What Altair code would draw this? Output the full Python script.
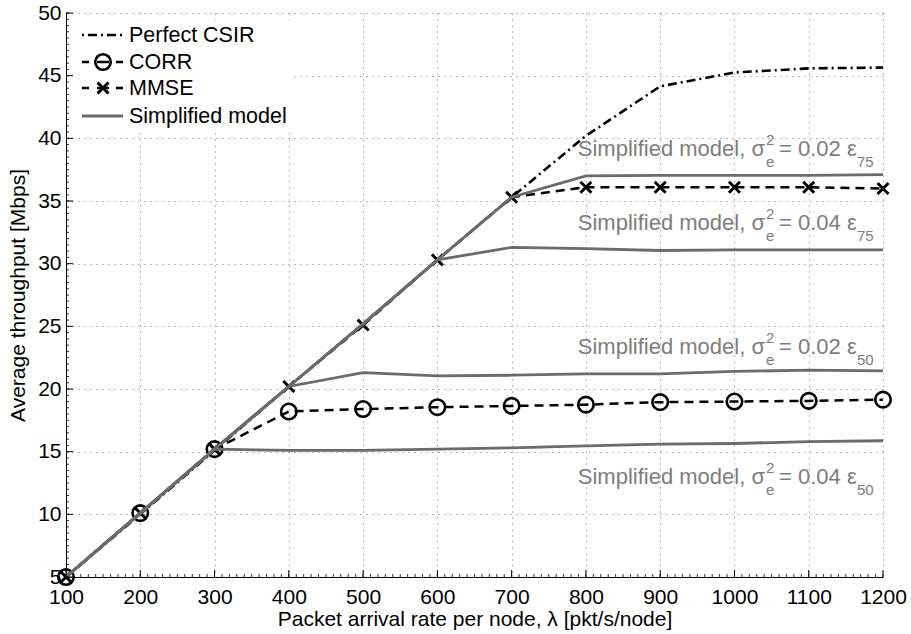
import altair as alt
import pandas as pd
import numpy as np

# ---------------- data ----------------
lam = [100, 200, 300, 400, 500, 600, 700, 800, 900, 1000, 1100, 1200]
perfect = [5.0, 10.0, 15.1, 20.2, 25.2, 30.3, 35.3, 40.2, 44.15, 45.25, 45.58, 45.65]
corr = [5.0, 10.1, 15.2, 18.2, 18.4, 18.55, 18.65, 18.75, 18.95, 19.0, 19.05, 19.15]
mmse = [5.0, 10.1, 15.2, 20.2, 25.1, 30.3, 35.3, 36.1, 36.1, 36.1, 36.1, 36.0]
simp_002_75 = [5.0, 10.1, 15.2, 20.2, 25.2, 30.3, 35.3, 37.0, 37.05, 37.05, 37.05, 37.1]
simp_004_75 = [5.0, 10.1, 15.2, 20.2, 25.2, 30.3, 31.3, 31.2, 31.05, 31.1, 31.1, 31.1]
simp_002_50 = [5.0, 10.1, 15.2, 20.2, 21.3, 21.05, 21.1, 21.2, 21.2, 21.4, 21.5, 21.45]
simp_004_50 = [5.0, 10.1, 15.2, 15.1, 15.1, 15.2, 15.3, 15.47, 15.6, 15.65, 15.8, 15.87]

x_ticks = [100, 200, 300, 400, 500, 600, 700, 800, 900, 1000, 1100, 1200]
y_ticks = [5, 10, 15, 20, 25, 30, 35, 40, 45, 50]
x_minor = list(range(100, 1201, 10))
y_minor = list(np.arange(5, 50.001, 0.5))

legend_labels = ["Perfect CSIR", "CORR", "MMSE", "Simplified model"]

ann_lam = [790.7, 790.7, 790.7, 790.7]
ann_thr = [38.57, 32.65, 22.82, 12.43]
ann_var = ["= 0.02 ε", "= 0.04 ε", "= 0.02 ε", "= 0.04 ε"]
ann_pct = ["75", "75", "50", "50"]

# ---------------- tables ----------------
series = {
    "Perfect CSIR": perfect,
    "CORR": corr,
    "MMSE": mmse,
    "s002_75": simp_002_75,
    "s004_75": simp_004_75,
    "s002_50": simp_002_50,
    "s004_50": simp_004_50,
}
rows = []
for name, vals in series.items():
    for xv, yv in zip(lam, vals):
        rows.append({"series": name, "lam": xv, "thr": yv})
df = pd.DataFrame(rows)

ann = pd.DataFrame({
    "lam": ann_lam, "thr": ann_thr,
    "main": ["Simplified model, σ"] * 4,
    "sup": ["2"] * 4, "sub": ["e"] * 4,
    "rest": ann_var, "pct": ann_pct,
})

W, H = 817, 564
FONT = "Liberation Sans"
GRAY_LINE = "#6b6b6b"
GRAY_TEXT = "#7d7d7d"

xs = alt.Scale(domain=[100, 1200], nice=False, zero=False)
ys = alt.Scale(domain=[5, 50], nice=False, zero=False)

X = alt.X("lam:Q", scale=xs, axis=alt.Axis(
    values=x_ticks, title="Packet arrival rate per node, λ [pkt/s/node]",
    labelFlush=False, labelOverlap=False, labelPadding=9, titlePadding=1,
    format="d"))
Y = alt.Y("thr:Q", scale=ys, axis=alt.Axis(
    values=y_ticks, title="Average throughput [Mbps]",
    labelFlush=False, labelOverlap=False, labelPadding=5, titlePadding=9,
    format="d"))

base = alt.Chart(df)

def sel(name):
    return base.transform_filter(alt.datum.series == name)

perfect_line = sel("Perfect CSIR").mark_line(
    color="black", strokeWidth=2.6, strokeDash=[9, 4, 2, 4]).encode(x=X, y=Y)

corr_line = sel("CORR").mark_line(
    color="black", strokeWidth=2.5, strokeDash=[9, 6]).encode(x=X, y=Y)
corr_pts = sel("CORR").mark_point(
    shape="circle", filled=False, size=240, strokeWidth=2.6, color="black",
    opacity=1).encode(x=X, y=Y)

XSHAPE = "M-1,-1L1,1M-1,1L1,-1"
mmse_line = sel("MMSE").mark_line(
    color="black", strokeWidth=2.5, strokeDash=[9, 6]).encode(x=X, y=Y)
mmse_pts = sel("MMSE").mark_point(
    shape=XSHAPE, filled=False, size=120, strokeWidth=3, color="black",
    opacity=1).encode(x=X, y=Y)

simp_lines = base.transform_filter(
    alt.FieldOneOfPredicate(field="series",
                            oneOf=["s002_75", "s004_75", "s002_50", "s004_50"])
).mark_line(color=GRAY_LINE, strokeWidth=2.8).encode(
    x=X, y=Y, detail="series:N")

# annotations
ab = alt.Chart(ann)
t_main = ab.mark_text(font=FONT, fontSize=22, color=GRAY_TEXT, align="right",
                      baseline="alphabetic", dx=186).encode(x=X, y=Y, text="main:N")
t_sup = ab.mark_text(font=FONT, fontSize=15, color=GRAY_TEXT, align="left",
                     baseline="alphabetic", dx=187, dy=-11).encode(x=X, y=Y, text="sup:N")
t_sub = ab.mark_text(font=FONT, fontSize=15, color=GRAY_TEXT, align="left",
                     baseline="alphabetic", dx=187, dy=11).encode(x=X, y=Y, text="sub:N")
t_rest = ab.mark_text(font=FONT, fontSize=22, color=GRAY_TEXT, align="left",
                      baseline="alphabetic", dx=200).encode(x=X, y=Y, text="rest:N")
t_pct = ab.mark_text(font=FONT, fontSize=15, color=GRAY_TEXT, align="left",
                     baseline="alphabetic", dx=278, dy=11).encode(x=X, y=Y, text="pct:N")

# inward axis ticks
xt = pd.DataFrame({"lam": x_ticks})
yt = pd.DataFrame({"thr": y_ticks})
xm = pd.DataFrame({"lam": x_minor})
ym = pd.DataFrame({"thr": y_minor})
x_major = alt.Chart(xt).mark_rule(color="black", strokeWidth=1).encode(
    x=X, y=alt.value(H), y2=alt.value(H - 7))
y_major = alt.Chart(yt).mark_rule(color="black", strokeWidth=1).encode(
    y=Y, x=alt.value(0), x2=alt.value(7))
x_min = alt.Chart(xm).mark_rule(color="black", strokeWidth=0.8).encode(
    x=X, y=alt.value(H), y2=alt.value(H - 3))
y_min = alt.Chart(ym).mark_rule(color="black", strokeWidth=0.8).encode(
    y=Y, x=alt.value(0), x2=alt.value(3))

# manual legend
one = pd.DataFrame({"a": [1]})
leg_y = [22, 49, 75, 103]

def seg(x1, x2, y, color="black", width=2.5, dash=None):
    kw = dict(color=color, strokeWidth=width)
    if dash is not None:
        kw["strokeDash"] = dash
    return alt.Chart(one).mark_rule(**kw).encode(
        x=alt.value(x1), x2=alt.value(x2), y=alt.value(y))

def lab(text, y):
    return alt.Chart(one).mark_text(
        text=text, font=FONT, fontSize=21.5, color="black", align="left",
        baseline="middle").encode(x=alt.value(63), y=alt.value(y + 1))

leg_bg = alt.Chart(one).mark_rect(color="white").encode(
    x=alt.value(1), x2=alt.value(228), y=alt.value(7), y2=alt.value(118))

leg_layers = [leg_bg]
leg_layers.append(seg(16, 57, leg_y[0], width=2.6, dash=[2, 4, 9, 4]))
for i in (1, 2):
    leg_layers += [seg(16, 23, leg_y[i]), seg(31, 43, leg_y[i]), seg(50, 57, leg_y[i])]
leg_layers.append(alt.Chart(one).mark_point(
    shape="circle", filled=False, size=240, strokeWidth=2.6, color="black",
    opacity=1).encode(x=alt.value(37), y=alt.value(leg_y[1])))
leg_layers.append(alt.Chart(one).mark_point(
    shape=XSHAPE, filled=False, size=120, strokeWidth=3, color="black",
    opacity=1).encode(x=alt.value(37), y=alt.value(leg_y[2])))
leg_layers.append(seg(16, 57, leg_y[3], color=GRAY_LINE, width=2.8))
for t, yy in zip(legend_labels, leg_y):
    leg_layers.append(lab(t, yy))

chart = alt.layer(
    *leg_layers[:1],
    perfect_line, corr_line, corr_pts, mmse_line, mmse_pts, simp_lines,
    t_main, t_sup, t_sub, t_rest, t_pct,
    *leg_layers[1:],
    x_major, y_major, x_min, y_min,
).properties(
    width=W, height=H,
    autosize=alt.AutoSizeParams(type="none"),
    padding={"left": 66, "top": 13, "right": 911 - 66 - W, "bottom": 634 - 13 - H},
    background="white",
).configure_view(stroke=None).configure_axis(
    labelFont=FONT, titleFont=FONT, labelFontSize=21, titleFontSize=21,
    labelColor="black", titleColor="black", titleFontWeight="normal",
    ticks=False, domainColor="black", domainWidth=1,
    grid=True, gridColor="black", gridOpacity=0.55, gridDash=[1, 5], gridWidth=1,
)

chart.save("out.html", embed_options={"renderer": "svg", "actions": False})
